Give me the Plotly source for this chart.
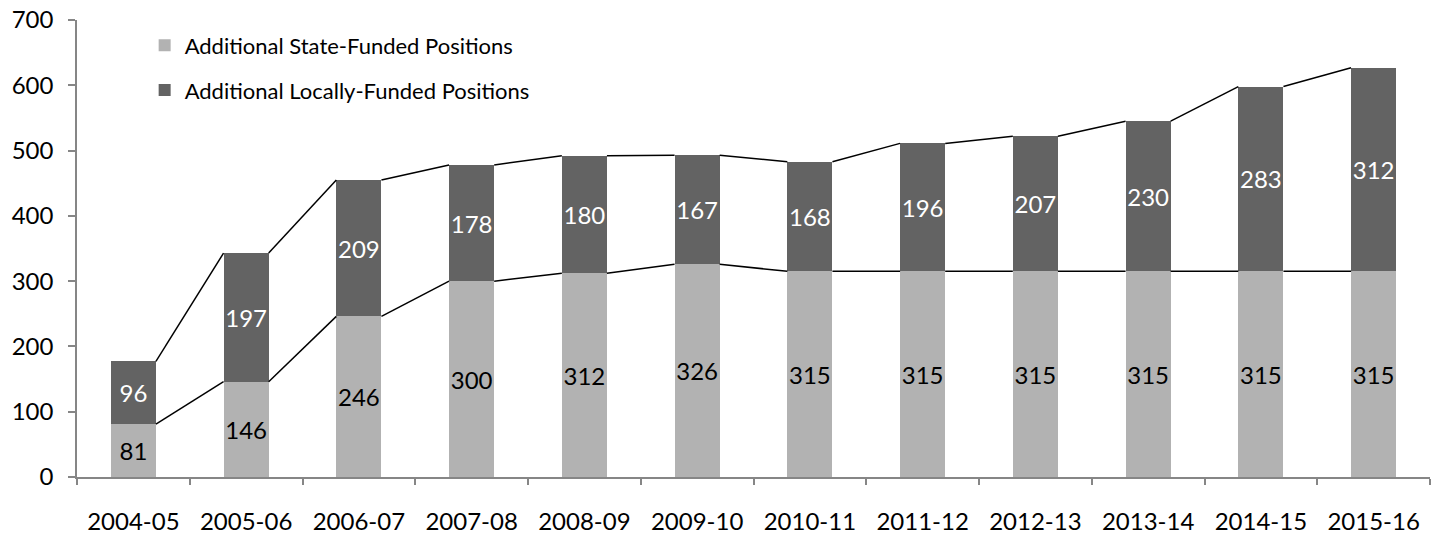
import plotly.graph_objects as go

years = ['2004-05', '2005-06', '2006-07', '2007-08', '2008-09', '2009-10',
         '2010-11', '2011-12', '2012-13', '2013-14', '2014-15', '2015-16']
state_funded = [81, 146, 246, 300, 312, 326, 315, 315, 315, 315, 315, 315]
local_funded = [96, 197, 209, 178, 180, 167, 168, 196, 207, 230, 283, 312]

FONT = 'Lato'
bar_w = 0.4

# running tops of each stack level, used for the series lines
state_top = state_funded
total_top = [s + l for s, l in zip(state_funded, local_funded)]


def series_line(tops):
    # connect right top corner of one bar to left top corner of the next
    xs, ys = [], []
    for i in range(len(tops) - 1):
        xs += [i + bar_w / 2, i + 1 - bar_w / 2, None]
        ys += [tops[i], tops[i + 1], None]
    return xs, ys


fig = go.Figure()

fig.add_trace(go.Bar(
    x=years, y=state_funded, name='Additional State-Funded Positions',
    marker=dict(color='#b2b2b2', line=dict(width=0)),
    text=state_funded, textposition='inside', insidetextanchor='middle',
    textangle=0, constraintext='none',
    textfont=dict(family=FONT, size=24, color='black'),
    width=bar_w, legendgroup='a'))

fig.add_trace(go.Bar(
    x=years, y=local_funded, name='Additional Locally-Funded Positions',
    marker=dict(color='#636363', line=dict(width=0)),
    text=local_funded, textposition='inside', insidetextanchor='middle',
    textangle=0, constraintext='none',
    textfont=dict(family=FONT, size=24, color='white'),
    width=bar_w, legendgroup='b'))

for tops in (state_top, total_top):
    lx, ly = series_line(tops)
    fig.add_trace(go.Scatter(x=lx, y=ly, mode='lines', xaxis='x2',
                             line=dict(color='black', width=1.5),
                             showlegend=False, hoverinfo='skip'))

fig.update_layout(
    width=1439, height=536,
    barmode='stack',
    plot_bgcolor='white', paper_bgcolor='white',
    margin=dict(l=77, r=9, t=20, b=59, autoexpand=False),
    font=dict(family=FONT, size=24, color='black'),
    showlegend=True,
    legend=dict(x=0.05, y=0.99, xanchor='left', yanchor='top',
                traceorder='grouped', tracegroupgap=13,
                font=dict(family=FONT, size=22, color='black'),
                bgcolor='rgba(0,0,0,0)'),
    xaxis=dict(type='category', range=[-0.5, 11.5], tickson='boundaries',
               ticks='outside', ticklen=6, tickcolor='#868686', tickwidth=1.5,
               showline=True, linecolor='#868686', linewidth=1.5,
               showgrid=False, ticklabelstandoff=22, automargin=False,
               tickfont=dict(family=FONT, size=24)),
    xaxis2=dict(overlaying='x', range=[-0.5, 11.5], visible=False),
    yaxis=dict(range=[0, 700], dtick=100, ticks='outside', ticklen=7,
               tickcolor='#868686', tickwidth=1.5,
               showline=True, linecolor='#868686', linewidth=1.5,
               showgrid=False, zeroline=False, ticklabelstandoff=10,
               automargin=False, tickfont=dict(family=FONT, size=24)),
)

# page body has a default 8px margin; drop it so the figure fills the window
fig.write_html("out.html", config={'displayModeBar': False},
               post_script="document.body.style.margin='0';")
